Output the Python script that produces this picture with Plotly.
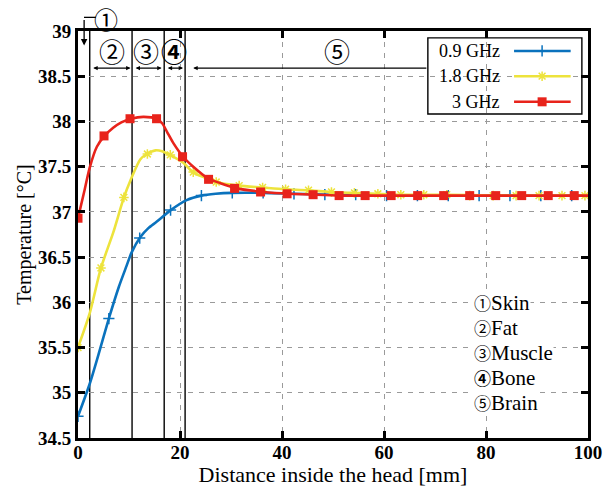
import plotly.graph_objects as go

# ---------------- data ----------------
BLUE_LINE_X = [0, 2.3, 4.0, 6.1, 8.0, 9.5, 10.5, 12.2, 13.8, 15.4, 18.2, 21.3, 24.2, 27, 30.2, 36.3, 42.4, 50, 60, 70, 80, 90, 100]
BLUE_LINE_Y = [34.74, 35.10, 35.42, 35.83, 36.17, 36.40, 36.55, 36.72, 36.82, 36.89, 37.02, 37.13, 37.18, 37.20, 37.21, 37.21, 37.20, 37.19, 37.18, 37.18, 37.18, 37.18, 37.18]
BLUE_MARK_X = [0, 6.05, 12.1, 18.15, 24.2, 30.25, 36.3, 42.35, 48.4, 54.45, 60.5, 66.55, 72.6, 78.65, 84.7, 90.75, 96.8]
BLUE_MARK_Y = [34.74, 35.82, 36.71, 37.02, 37.18, 37.21, 37.21, 37.20, 37.19, 37.19, 37.18, 37.18, 37.18, 37.18, 37.18, 37.18, 37.18]

YEL_LINE_X = [0, 2.3, 4.5, 6.9, 9.0, 10.3, 12.2, 13.5, 15.2, 16.5, 18.0, 20.7, 22.5, 24.8, 27.0, 31.5, 36.0, 40.5, 45.0, 49.5, 54.0, 58.5, 63, 72, 81, 90, 100]
YEL_LINE_Y = [35.50, 35.88, 36.38, 36.77, 37.16, 37.35, 37.58, 37.64, 37.68, 37.67, 37.63, 37.54, 37.44, 37.38, 37.33, 37.29, 37.27, 37.25, 37.24, 37.22, 37.21, 37.20, 37.19, 37.19, 37.18, 37.18, 37.18]
YEL_MARK_X = [0, 4.5, 9.0, 13.6, 18.1, 22.6, 27.1, 31.6, 36.2, 40.7, 45.2, 49.7, 54.2, 58.8, 63.3, 67.8, 72.3, 76.8, 81.4, 85.9, 90.4, 94.9, 99.4]
YEL_MARK_Y = [35.50, 36.38, 37.16, 37.64, 37.63, 37.44, 37.33, 37.29, 37.27, 37.25, 37.24, 37.22, 37.21, 37.20, 37.19, 37.19, 37.19, 37.18, 37.18, 37.18, 37.18, 37.18, 37.18]

RED_LINE_X = [0, 1.2, 2.3, 3.7, 5.2, 6.9, 8.5, 10.4, 12.8, 15.4, 16.5, 17.5, 18.7, 20.6, 22.6, 25.5, 27.8, 31.2, 36.4, 41.6, 46.8, 52, 60, 70, 80, 90, 100]
RED_LINE_Y = [36.93, 37.22, 37.49, 37.72, 37.84, 37.93, 37.99, 38.03, 38.05, 38.03, 37.98, 37.88, 37.76, 37.61, 37.50, 37.37, 37.32, 37.26, 37.22, 37.20, 37.19, 37.18, 37.18, 37.18, 37.18, 37.18, 37.18]
RED_MARK_X = [0, 5.1, 10.2, 15.4, 20.5, 25.6, 30.7, 35.8, 41.0, 46.1, 51.2, 56.3, 61.4, 66.6, 71.7, 76.8, 81.9, 87.0, 92.2, 97.3]
RED_MARK_Y = [36.93, 37.84, 38.03, 38.03, 37.61, 37.36, 37.26, 37.22, 37.20, 37.19, 37.18, 37.18, 37.18, 37.18, 37.18, 37.18, 37.18, 37.18, 37.18, 37.18]

SERIES_NAMES = ["0.9 GHz", "1.8 GHz", "3 GHz"]
X_TICKS = [0, 20, 40, 60, 80, 100]
Y_TICKS = [34.5, 35, 35.5, 36, 36.5, 37, 37.5, 38, 38.5, 39]
Y_TICK_TEXT = ["34.5", "35", "35.5", "36", "36.5", "37", "37.5", "38", "38.5", "39"]
BOUNDARIES = [2.3, 10.6, 16.9, 21.0]
TISSUE_MARKS = ["\u2460", "\u2461", "\u2462", "<b>\u2463</b>", "\u2464"]
TISSUE_NAMES = ["Skin", "Fat", "Muscle", "Bone", "Brain"]

# ---------------- styles ----------------
BLUE = "#0a72bd"
YELLOW = "#ede33c"
RED = "#e8231b"
SERIF = "Liberation Serif"
CIRC = "Noto Sans CJK JP"

fig = go.Figure()

series = [
    (BLUE_LINE_X, BLUE_LINE_Y, BLUE_MARK_X, BLUE_MARK_Y, BLUE,
     dict(symbol="cross-thin-open", size=8, color=BLUE, line=dict(width=1.5, color=BLUE))),
    (YEL_LINE_X, YEL_LINE_Y, YEL_MARK_X, YEL_MARK_Y, YELLOW,
     dict(symbol="asterisk-open", size=8, color=YELLOW, line=dict(width=1.5, color=YELLOW))),
    (RED_LINE_X, RED_LINE_Y, RED_MARK_X, RED_MARK_Y, RED,
     dict(symbol="square", size=9, color=RED, line=dict(width=0))),
]

for lx, ly, mx, my, col, mk in series:
    fig.add_trace(go.Scatter(x=lx, y=ly, mode="lines",
                             line=dict(color=col, width=2.6, shape="spline", smoothing=0.7),
                             hoverinfo="skip", showlegend=False))
    fig.add_trace(go.Scatter(x=mx, y=my, mode="markers", marker=mk,
                             hoverinfo="skip", showlegend=False))

annotations = []
shapes = []

# custom legend (symbol on the right, like the reference) on an overlay axis in [0,1]
LEG_ROWS = [0.951, 0.889, 0.826]
for (lx, ly, mx, my, col, mk), yy, name in zip(series, LEG_ROWS, SERIES_NAMES):
    fig.add_trace(go.Scatter(x=[0.855, 0.966], y=[yy, yy], mode="lines",
                             line=dict(color=col, width=2.6), xaxis="x2", yaxis="y2",
                             hoverinfo="skip", showlegend=False))
    fig.add_trace(go.Scatter(x=[0.91], y=[yy], mode="markers", marker=mk,
                             xaxis="x2", yaxis="y2", hoverinfo="skip", showlegend=False))
    annotations.append(dict(xref="paper", yref="paper", x=0.831, y=yy, xanchor="right", yanchor="middle",
                            text=name, showarrow=False, font=dict(family=SERIF, size=18, color="black")))

for b in BOUNDARIES:
    shapes.append(dict(type="line", xref="x", yref="paper", x0=b, x1=b, y0=0, y1=1,
                       line=dict(color="black", width=1.4), layer="between"))
shapes.append(dict(type="rect", xref="paper", yref="paper", x0=0.686, x1=0.988, y0=0.796, y1=0.983,
                   fillcolor="white", line=dict(color="black", width=1.4), layer="between"))
# horizontal part of the bent arrow for (1)
shapes.append(dict(type="line", xref="paper", yref="paper", x0=0.0118, x1=0.035, y0=1.0335, y1=1.0335,
                   line=dict(color="black", width=1.3)))

# (1) arrow pointing down into skin layer
annotations.append(dict(x=1.2, y=38.84, xref="x", yref="y", ax=0, ay=-27, text="", showarrow=True,
                        arrowhead=2, arrowsize=1, arrowwidth=1.3, arrowcolor="black"))
annotations.append(dict(x=0.055, y=1.0295, xref="paper", yref="paper", xanchor="center", yanchor="middle",
                        text="\u2460", showarrow=False,
                        font=dict(family=CIRC, size=24, color="black")))
# double arrows for layers
ARROW_Y = 38.59
for x0, x1 in [(2.7, 10.3), (11.0, 16.4), (17.3, 20.6)]:
    annotations.append(dict(x=x1, y=ARROW_Y, ax=x0, ay=ARROW_Y, xref="x", yref="y", axref="x", ayref="y",
                            text="", showarrow=True, arrowhead=2, arrowside="end+start", arrowsize=0.8,
                            arrowwidth=1.1, arrowcolor="black", standoff=0, startstandoff=0))
annotations.append(dict(x=22.6, y=ARROW_Y, ax=68.6, ay=ARROW_Y, xref="x", yref="y", axref="x", ayref="y",
                        text="", showarrow=True, arrowhead=2, arrowsize=0.8, arrowwidth=1.1,
                        arrowcolor="black", standoff=0))
for lab, xx in [("\u2461", 6.7), ("\u2462", 13.3), ("<b>\u2463</b>", 18.8), ("\u2464", 50.8)]:
    annotations.append(dict(x=xx, y=38.78, xref="x", yref="y", text=lab, showarrow=False,
                            xanchor="center", yanchor="middle",
                            font=dict(family=CIRC, size=26, color="black")))
# tissue list: one annotation per row, white box hides the grid behind the text
TISSUE_ROW_Y = [36.00, 35.72, 35.45, 35.17, 34.89]
for m, n, yy in zip(TISSUE_MARKS, TISSUE_NAMES, TISSUE_ROW_Y):
    annotations.append(dict(x=77.4, y=yy, xref="x", yref="y", xanchor="left", yanchor="middle",
                            text=f"<span style='font-family:{CIRC};font-size:17px'>{m}</span>{n}",
                            align="left", showarrow=False, borderpad=0, bgcolor="white",
                            font=dict(family=SERIF, size=21, color="black")))

axis_common = dict(showline=True, linewidth=3, linecolor="black", mirror="ticks",
                   ticks="inside", ticklen=7, tickwidth=3, tickcolor="black",
                   showgrid=True, gridcolor="#9a9a9a", gridwidth=1.2, griddash="5px,6px",
                   zeroline=False, automargin=False,
                   tickfont=dict(family=SERIF, size=19, color="black", weight="bold"))

fig.update_layout(
    template="none",
    width=615, height=487,
    margin=dict(l=78, r=27, t=31, b=49, autoexpand=False),
    paper_bgcolor="white", plot_bgcolor="white",
    font=dict(family=SERIF, color="black"),
    showlegend=False,
    shapes=shapes, annotations=annotations,
    xaxis=dict(range=[0, 100], tickvals=X_TICKS, ticklabelstandoff=-5,
               title=dict(text="Distance inside the head [mm]", standoff=0,
                          font=dict(family=SERIF, size=22, color="black")),
               **axis_common),
    yaxis=dict(range=[34.5, 39], tickvals=Y_TICKS, ticktext=Y_TICK_TEXT,
               title=dict(text="Temperature [°C]", standoff=1,
                          font=dict(family=SERIF, size=20, color="black")),
               **axis_common),
    xaxis2=dict(overlaying="x", range=[0, 1], visible=False, fixedrange=True),
    yaxis2=dict(overlaying="y", range=[0, 1], visible=False, fixedrange=True),
)

fig.write_html("out.html")
